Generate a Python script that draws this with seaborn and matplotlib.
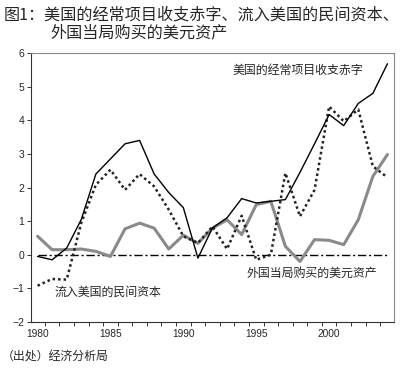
import numpy as np
import pandas as pd
import matplotlib
matplotlib.use("Agg")
import matplotlib.pyplot as plt
import seaborn as sns
from matplotlib.ticker import FixedLocator

years = list(range(1980, 2005))
current_account = [-0.05, -0.15, 0.2, 1.05, 2.4, 2.85, 3.3, 3.4, 2.4, 1.85, 1.4, -0.1,
                   0.8, 1.1, 1.67, 1.54, 1.59, 1.64, 2.45, 3.3, 4.17, 3.84, 4.5, 4.8, 5.68]
private_inflow = [-0.92, -0.72, -0.74, 0.95, 2.08, 2.53, 1.93, 2.4, 2.03, 1.34, 0.55, 0.35,
                  0.84, 0.17, 1.16, -0.15, 0.0, 2.43, 1.14, 1.93, 4.41, 3.97, 4.32, 2.63, 2.3]
official_assets = [0.55, 0.15, 0.15, 0.17, 0.1, -0.05, 0.77, 0.94, 0.79, 0.17, 0.58, 0.34,
                   0.79, 1.04, 0.6, 1.49, 1.59, 0.25, -0.2, 0.45, 0.43, 0.3, 1.04, 2.33, 2.98]
zero_line = [0.0] * len(years)

title_line1 = "图1：美国的经常项目收支赤字、流入美国的民间资本、"
title_line2 = "外国当局购买的美元资产"
label_ca = "美国的经常项目收支赤字"
label_private = "流入美国的民间资本"
label_official = "外国当局购买的美元资产"
source = "（出处）经济分析局"
xtick_labels = [1980, 1985, 1990, 1995, 2000]
ytick_values = [-2, -1, 0, 1, 2, 3, 4, 5, 6]

sns.set_theme(style="white")
plt.rcParams['font.family'] = ['Noto Sans CJK SC', 'DejaVu Sans']

df = pd.DataFrame({"year": years, "ca": current_account, "priv": private_inflow,
                   "off": official_assets, "zero": zero_line})

fig = plt.figure(figsize=(4.0, 3.7), dpi=100)
ax = fig.add_axes([31/400, (370-322)/370, 363/400, 269/370])

sns.lineplot(data=df, x="year", y="zero", ax=ax, color="black", lw=1.0,
             linestyle=(0, (6, 2, 1.5, 2)))
sns.lineplot(data=df, x="year", y="off", ax=ax, color="#8a8a8a", lw=2.2)
sns.lineplot(data=df, x="year", y="priv", ax=ax, color="#222222", lw=1.8,
             linestyle=(0, (1.0, 1.2)))
sns.lineplot(data=df, x="year", y="ca", ax=ax, color="black", lw=1.0)

ax.set_xlim(1979.55, 2004.45)
ax.set_ylim(-2, 6)
ax.set_xlabel("")
ax.set_ylabel("")
ax.set_xticks(xtick_labels)
ax.set_xticklabels([str(v) for v in xtick_labels], family=['Liberation Sans'], fontsize=7.3)
ax.xaxis.set_minor_locator(FixedLocator([y + 0.5 for y in years[:-1]]))
ax.set_yticks(ytick_values)
ax.set_yticklabels([str(v).replace('-', '−') for v in ytick_values],
                   family=['Liberation Sans', 'DejaVu Sans'], fontsize=7.5)
ax.tick_params(axis='x', which='major', length=0, pad=5)
ax.tick_params(axis='x', which='minor', length=3, width=0.7, color='#333333', direction='out', bottom=True)
ax.tick_params(axis='y', which='major', length=3, width=0.7, color='#333333', direction='out', left=True, pad=2)

for side, sp in ax.spines.items():
    sp.set_visible(True)
    sp.set_linewidth(0.8)
    sp.set_color('#333333' if side in ('left', 'bottom') else '#888888')

fig.text(232/400, 1 - 70/370, label_ca, fontsize=8.6, va='center', ha='left')
fig.text(55/400, 1 - 292/370, label_private, fontsize=8.6, va='center', ha='left')
fig.text(247/400, 1 - 273/370, label_official, fontsize=8.6, va='center', ha='left')

fig.text(4/400, 1 - 15/370, title_line1, fontsize=11.6, va='center', ha='left')
fig.text(50/400, 1 - 33/370, title_line2, fontsize=11.6, va='center', ha='left')
fig.text(2/400, 1 - 357/370, source, fontsize=8.6, va='center', ha='left')

fig.savefig("out.png", dpi=100)
